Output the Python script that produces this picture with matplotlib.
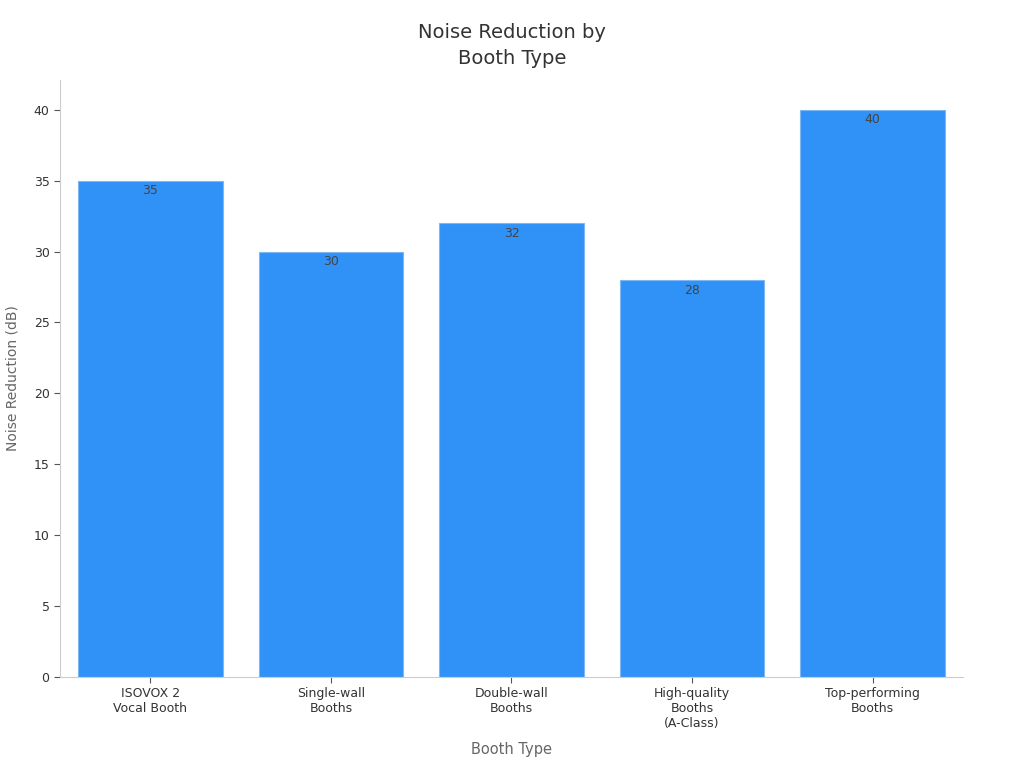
import matplotlib.pyplot as plt

# データ
booth_types = ['ISOVOX 2\nVocal Booth', 'Single-wall\nBooths', 'Double-wall\nBooths',
               'High-quality\nBooths\n(A-Class)', 'Top-performing\nBooths']
noise_reduction = [35, 30, 32, 28, 40]
y_ticks = [0, 5, 10, 15, 20, 25, 30, 35, 40]

plt.rcParams['font.family'] = ['DejaVu Sans']

fig = plt.figure(figsize=(10.24, 7.68), dpi=100)
ax = fig.add_axes([0.0586, 0.1185, 0.8818, 0.7773])

x = range(len(booth_types))
bars = ax.bar(x, noise_reduction, width=0.8, color='#3091f7', edgecolor='#7db8f5', linewidth=0.8)

# 棒の上端に値
for xi, v in zip(x, noise_reduction):
    ax.text(xi, v - 0.25, str(v), ha='center', va='top', fontsize=9, color='#444444')

ax.set_xlim(-0.5, 4.5)
ax.set_ylim(0, 42.1)
ax.set_xticks(list(x))
ax.set_xticklabels(booth_types, fontsize=9, color='#333333')
ax.set_yticks(y_ticks)
ax.set_yticklabels([str(t) for t in y_ticks], fontsize=9, color='#333333')

for s in ['top', 'right']:
    ax.spines[s].set_visible(False)
for s in ['left', 'bottom']:
    ax.spines[s].set_color('#cccccc')
ax.tick_params(axis='both', colors='#555555', length=4)
for lbl in ax.get_xticklabels() + ax.get_yticklabels():
    lbl.set_color('#333333')

ax.set_xlabel('Booth Type', fontsize=10.5, color='#666666', labelpad=8)
ax.set_ylabel('Noise Reduction (dB)', fontsize=10, color='#666666', labelpad=10)
fig.text(0.5, 0.941, 'Noise Reduction by\nBooth Type', ha='center', va='center',
         fontsize=14, color='#333333', linespacing=1.45)

fig.savefig('out.png', dpi=100)
